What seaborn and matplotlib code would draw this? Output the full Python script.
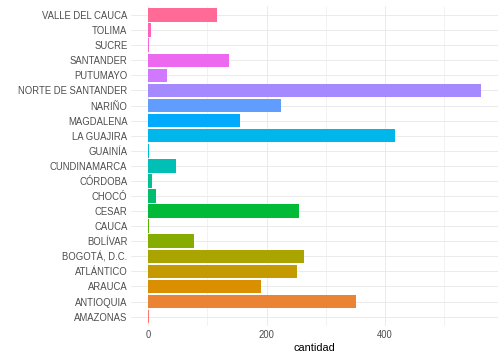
import numpy as np
import pandas as pd
import seaborn as sns
import matplotlib
matplotlib.use('Agg')
import matplotlib.pyplot as plt

# data (alphabetical, bottom to top in the reference)
departamentos = ['AMAZONAS', 'ANTIOQUIA', 'ARAUCA', 'ATLÁNTICO', 'BOGOTÁ, D.C.',
                 'BOLÍVAR', 'CAUCA', 'CESAR', 'CHOCÓ', 'CÓRDOBA', 'CUNDINAMARCA',
                 'GUAINÍA', 'LA GUAJIRA', 'MAGDALENA', 'NARIÑO', 'NORTE DE SANTANDER',
                 'PUTUMAYO', 'SANTANDER', 'SUCRE', 'TOLIMA', 'VALLE DEL CAUCA']
cantidad = [2, 351, 191, 251, 263, 78, 2, 255, 14, 7, 47,
            2, 417, 155, 225, 562, 32, 137, 2, 5, 117]
x_ticks = [0, 200, 400]


def hue_pal(n, l=65, c=100):
    # ggplot2 default hue palette (HCL -> sRGB)
    h = np.deg2rad(15 + np.arange(n) * 360.0 / n)
    u = c * np.cos(h)
    v = c * np.sin(h)
    xn, yn, zn = 95.047, 100.0, 108.883
    un = 4 * xn / (xn + 15 * yn + 3 * zn)
    vn = 9 * yn / (xn + 15 * yn + 3 * zn)
    Y = np.full(n, yn * ((l + 16) / 116.0) ** 3)
    up = u / (13 * l) + un
    vp = v / (13 * l) + vn
    X = Y * 9 * up / (4 * vp)
    Z = Y * (12 - 3 * up - 20 * vp) / (4 * vp)
    xyz = np.vstack([X, Y, Z]) / 100.0
    m = np.array([[3.2404542, -1.5371385, -0.4985314],
                  [-0.9692660, 1.8760108, 0.0415560],
                  [0.0556434, -0.2040259, 1.0572252]])
    rgb = m @ xyz
    rgb = np.where(rgb <= 0.0031308, 12.92 * rgb, 1.055 * np.clip(rgb, 0, None) ** (1 / 2.4) - 0.055)
    rgb = np.clip(rgb, 0, 1)
    return [tuple(col) for col in rgb.T]


colores = dict(zip(departamentos, hue_pal(len(departamentos))))

df = pd.DataFrame({'departamento': departamentos, 'cantidad': cantidad})
orden = departamentos[::-1]

sns.set_style('white')
plt.rcParams['font.family'] = ['Liberation Sans', 'DejaVu Sans']

fig = plt.figure(figsize=(7, 5), dpi=72)
ax = fig.add_axes([131.4 / 504, (360 - 325.7) / 360, (497.6 - 131.4) / 504, (325.7 - 6.0) / 360])

sns.barplot(data=df, x='cantidad', y='departamento', hue='departamento', order=orden,
            hue_order=orden, palette=colores, legend=False, width=0.9,
            saturation=1, orient='h', ax=ax, zorder=3,
            linewidth=0, edgecolor='none')

xmax = max(cantidad)
ax.set_xlim(-0.05 * xmax, 1.05 * xmax)
ax.set_ylim(len(orden) - 1 + 0.6, -0.6)

ax.set_xticks(x_ticks)
ax.set_xticks([100, 300, 500], minor=True)
ax.grid(True, which='major', color='#EBEBEB', linewidth=1.0, zorder=0)
ax.grid(True, which='minor', axis='x', color='#EBEBEB', linewidth=0.6, zorder=0)
ax.set_axisbelow(True)
for s in ax.spines.values():
    s.set_visible(False)

ax.tick_params(axis='both', which='both', length=0, labelsize=9.5, labelcolor='#4D4D4D')
ax.tick_params(axis='y', pad=4)
ax.tick_params(axis='x', pad=4)
ax.set_xlabel('cantidad', fontsize=11, color='black', labelpad=3)
ax.set_ylabel('')

fig.savefig('out.png', dpi=72)
